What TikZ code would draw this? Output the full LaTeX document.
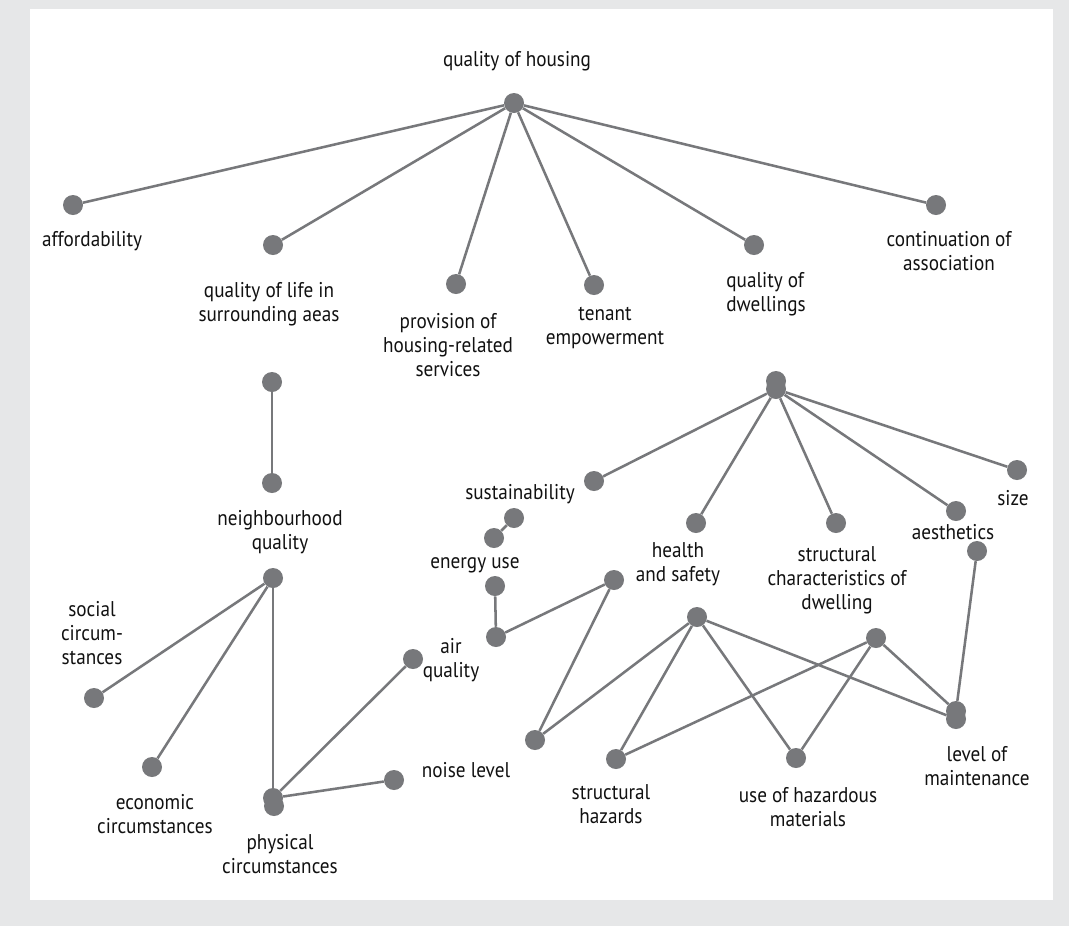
\documentclass[tikz,border=0pt]{standalone}
\usepackage{fontspec}
\setmainfont{PT Sans}[FakeStretch=0.9]
\usepackage{tikz}
\usepackage{xcolor}
\definecolor{dotgray}{HTML}{77787B}
\definecolor{framegray}{HTML}{E6E7E8}
\definecolor{labelblack}{HTML}{111111}
\tikzset{
    concept-dot/.style = {circle, fill=dotgray, inner sep=0pt, minimum size=15pt},
    concept-label/.style = {align=center, text=labelblack, font=\fontsize{16}{18}\selectfont, inner sep=0pt},
    concept-link/.style = {draw=dotgray, line width=1.9pt},
}

\begin{document}
\begin{tikzpicture}[x=0.75pt, y=-0.75pt]
\fill[framegray] (0,0) rectangle (1069,926);
\fill[white] (30,9) rectangle (1053,900);

% top level
\node[concept-dot] (root) at (514,103) {};
\node[concept-dot] (afford) at (73,205) {};
\node[concept-dot] (qlife) at (273,245) {};
\node[concept-dot] (prov) at (456,284) {};
\node[concept-dot] (tenant) at (594,285) {};
\node[concept-dot] (qdwell) at (754,245) {};
\node[concept-dot] (contin) at (936,205) {};
\node[concept-label] (root-text) at (517,61) {quality of housing};
\node[concept-label] (afford-text) at (92,241) {affordability};
\node[concept-label] (qlife-text) at (269,304) {quality of life in\\surrounding aeas};
\node[concept-label] (prov-text) at (448,345) {provision of\\housing-related\\services};
\node[concept-label] (tenant-text) at (605,328) {tenant\\empowerment};
\node[concept-label, align=left] (qdwell-text) at (766,294) {quality of\\dwellings};
\node[concept-label] (contin-text) at (949,251) {continuation of\\association};
\foreach \t in {afford,qlife,prov,tenant,qdwell,contin}
    \draw[concept-link] (root) -- (\t);

% neighbourhood
\node[concept-dot] (nq-top) at (272,382) {};
\node[concept-dot] (nq) at (272,483) {};
\node[concept-dot] (nq-hub) at (273,578) {};
\node[concept-dot] (social) at (94,698) {};
\node[concept-dot] (economic) at (152,767) {};
\node[concept-dot] (phys-b) at (274,806) {};
\node[concept-dot] (phys-a) at (273,798) {};
\node[concept-dot] (air) at (413,659) {};
\node[concept-dot] (noise) at (394,780) {};
\node[concept-label] (nq-text) at (280,532) {neighbourhood\\quality};
\node[concept-label] (social-text) at (92,633) {social\\circum-\\stances};
\node[concept-label] (economic-text) at (155,814) {economic\\circumstances};
\node[concept-label] (phys-text) at (280,854) {physical\\circumstances};
\node[concept-label] (air-text) at (451,660) {air\\quality};
\node[concept-label] (noise-text) at (466,770) {noise level};
\draw[concept-link] (nq-top) -- (nq);
\foreach \t in {social,economic,phys-a}
    \draw[concept-link] (nq-hub) -- (\t);
\draw[concept-link] (phys-a) -- (air);
\draw[concept-link] (phys-a) -- (noise);

% dwellings
\node[concept-dot] (dwell-a) at (776,381) {};
\node[concept-dot] (dwell-b) at (776,389) {};
\node[concept-dot] (sust) at (594,481) {};
\node[concept-dot] (health) at (696,523) {};
\node[concept-dot] (struct) at (836,523) {};
\node[concept-dot] (aesth) at (956,511) {};
\node[concept-dot] (size) at (1017,470) {};
\node[concept-label] (sust-text) at (520,494) {sustainability};
\node[concept-label] (health-text) at (678,564) {health\\and safety};
\node[concept-label] (struct-text) at (837,580) {structural\\characteristics of\\dwelling};
\node[concept-label] (aesth-text) at (953,532) {aesthetics};
\node[concept-label] (size-text) at (1013,498) {size};
\foreach \t in {sust,health,struct,aesth,size}
    \draw[concept-link] (dwell-b) -- (\t);

% sustainability and health
\node[concept-dot] (sust-b) at (514,518) {};
\node[concept-dot] (energy) at (494,538) {};
\node[concept-dot] (energy-b) at (495,586) {};
\node[concept-dot] (air-b) at (496,637) {};
\node[concept-dot] (hs-a) at (614,580) {};
\node[concept-dot] (noise-b) at (535,740) {};
\node[concept-label] (energy-text) at (475,565) {energy use};
\draw[concept-link] (sust-b) -- (energy);
\draw[concept-link] (energy-b) -- (air-b);
\draw[concept-link] (air-b) -- (hs-a);
\draw[concept-link] (hs-a) -- (noise-b);

% hazards and maintenance
\node[concept-dot] (aesth-b) at (977,551) {};
\node[concept-dot] (hs-b) at (697,617) {};
\node[concept-dot] (sc-b) at (876,638) {};
\node[concept-dot] (haz) at (616,759) {};
\node[concept-dot] (mat) at (796,758) {};
\node[concept-dot] (maint-a) at (956,711) {};
\node[concept-dot] (maint-b) at (956,719) {};
\node[concept-label] (haz-text) at (611,804) {structural\\hazards};
\node[concept-label] (mat-text) at (808,807) {use of hazardous\\materials};
\node[concept-label] (maint-text) at (977,766) {level of\\maintenance};
\foreach \t in {noise-b,haz,mat,maint-b}
    \draw[concept-link] (hs-b) -- (\t);
\foreach \t in {haz,mat,maint-a}
    \draw[concept-link] (sc-b) -- (\t);
\draw[concept-link] (aesth-b) -- (maint-a);
\end{tikzpicture}
\end{document}
